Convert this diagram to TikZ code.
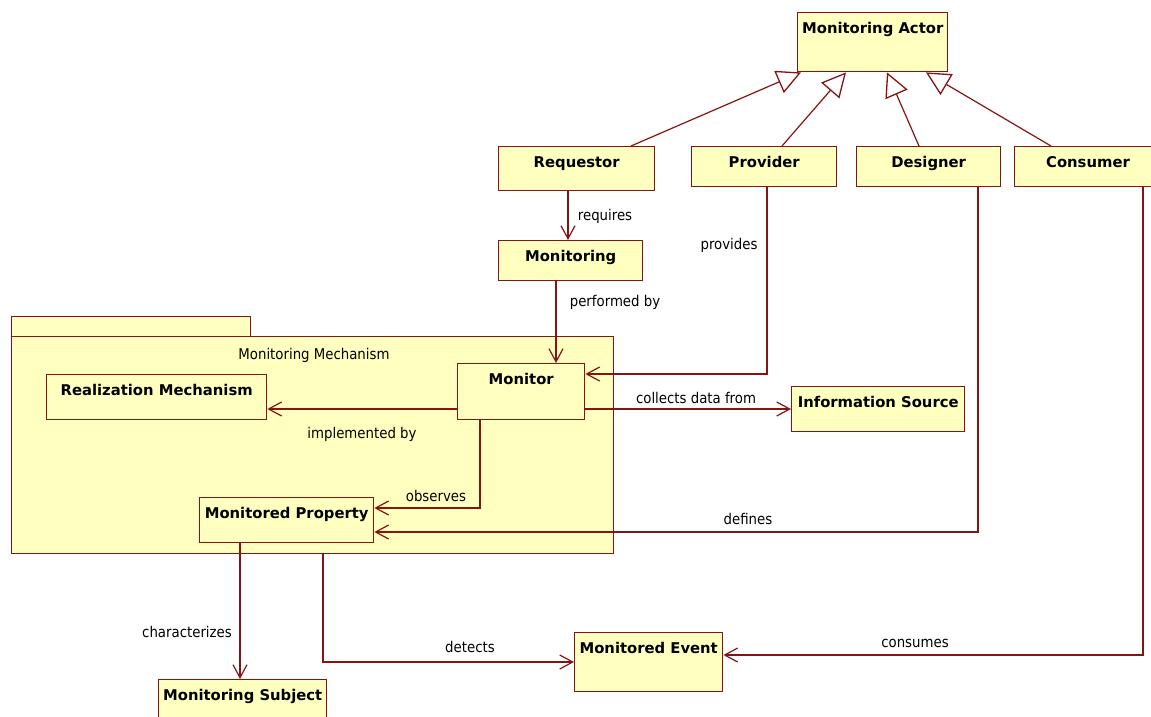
\documentclass[tikz,border=0pt]{standalone}
\usepackage{fontspec}
\setmainfont{DejaVu Sans}
\newfontfamily\condfont{DejaVu Sans Condensed}
\usetikzlibrary{arrows.meta,calc}
\definecolor{dr}{HTML}{861414}
\definecolor{yl}{HTML}{FFFFBF}
\begin{document}
\begin{tikzpicture}[x=1pt,y=-1pt,
  box/.style={draw=dr,fill=yl,line width=1.4pt,inner sep=0pt,anchor=north west},
  btxt/.style={font=\fontsize{14.8}{16}\selectfont\bfseries,inner sep=0pt,anchor=center,text height=10.5pt,text depth=3.5pt},
  lbl/.style={font=\condfont\fontsize{14.8}{16}\selectfont,inner sep=0pt,anchor=center,text height=10.5pt,text depth=3.5pt,yshift=-2pt},
  assoc/.style={draw=dr,line width=1.2pt,-{Straight Barb[length=13pt,width=14pt,line width=1.2pt]}},
  gen/.style={draw=dr,line width=1.2pt,-{Triangle[open,length=24pt,width=24pt,line width=1.3pt,fill=white]}}]
\useasboundingbox (0,0) rectangle (1151,716);
\fill[white] (0,0) rectangle (1151,716);
% package
\node[box,minimum width=239pt,minimum height=20pt] (pkgtab) at (11,316) {};
\node[box,minimum width=602pt,minimum height=217pt] (pkg) at (11,336) {};
\node[lbl] (pkgT) at (314,354) {Monitoring Mechanism};
% boxes
\node[box,minimum width=150pt,minimum height=59pt] (actor) at (797,12) {};
\node[btxt] (actorT) at ([yshift=-18pt]actor.north) {Monitoring Actor};
\node[box,minimum width=156pt,minimum height=44pt] (req) at (498,146) {};
\node[btxt] (reqT) at ([yshift=-18pt]req.north) {Requestor};
\node[box,minimum width=145pt,minimum height=40pt] (prov) at (691,146) {};
\node[btxt] (provT) at ([yshift=-18pt]prov.north) {Provider};
\node[box,minimum width=144pt,minimum height=40pt] (des) at (856,146) {};
\node[btxt] (desT) at ([yshift=-18pt]des.north) {Designer};
\node[box,minimum width=148pt,minimum height=40pt] (cons) at (1014,146) {};
\node[btxt] (consT) at (1088,164) {Consumer};
\node[box,minimum width=144pt,minimum height=40pt] (moni) at (498,240) {};
\node[btxt] (moniT) at ([yshift=-18pt]moni.north) {Monitoring};
\node[box,minimum width=220pt,minimum height=45pt] (real) at (46,374) {};
\node[btxt] (realT) at ([yshift=-18pt]real.north) {Realization Mechanism};
\node[box,minimum width=127pt,minimum height=56pt] (mon) at (457,363) {};
\node[btxt] (monT) at ([yshift=-18pt]mon.north) {Monitor};
\node[box,minimum width=173pt,minimum height=45pt] (info) at (791,386) {};
\node[btxt] (infoT) at ([yshift=-18pt]info.north) {Information Source};
\node[box,minimum width=174pt,minimum height=45pt] (prop) at (199,497) {};
\node[btxt] (propT) at ([yshift=-18pt]prop.north) {Monitored Property};
\node[box,minimum width=168pt,minimum height=50pt] (subj) at (158,679) {};
\node[btxt] (subjT) at ([yshift=-18pt]subj.north) {Monitoring Subject};
\node[box,minimum width=148pt,minimum height=59pt] (event) at (574,632) {};
\node[btxt] (eventT) at ([yshift=-18pt]event.north) {Monitored Event};
% helper coordinates
\coordinate (x568) at (568,0);
\coordinate (x556) at (556,0);
\coordinate (p374) at (767,374);
\coordinate (y409) at (0,409);
\coordinate (p508) at (480,508);
\coordinate (p532) at (978,532);
\coordinate (x240) at (240,0);
\coordinate (p662) at (323,662);
\coordinate (p655) at (1143,655);
\coordinate (g1) at (631,0);
\coordinate (g2) at (782,0);
\coordinate (g3) at (919,0);
\coordinate (g4) at (1051,0);
\coordinate (t1) at (801,0);
\coordinate (t2) at (846,0);
\coordinate (t3) at (887,0);
\coordinate (t4) at (926,0);
% generalizations
\draw[gen] (req.north -| g1) -- (actor.south -| t1);
\draw[gen] (prov.north -| g2) -- (actor.south -| t2);
\draw[gen] (des.north -| g3) -- (actor.south -| t3);
\draw[gen] (cons.north -| g4) -- (actor.south -| t4);
% associations
\draw[assoc] (req.south -| x568) -- (moni.north -| x568);
\node[lbl] (l1) at (605,215) {requires};
\draw[assoc] (moni.south -| x556) -- (mon.north -| x556);
\node[lbl] (l2) at (615,301) {performed by};
\draw[assoc] (prov.south -| p374) |- (mon.east |- p374);
\node[lbl] (l3) at (729,244) {provides};
\draw[assoc] (mon.west |- y409) -- (real.east |- y409);
\node[lbl] (l4) at (362,433) {implemented by};
\draw[assoc] (mon.east |- y409) -- (info.west |- y409);
\node[lbl] (l5) at (696,398) {collects data from};
\draw[assoc] (mon.south -| p508) |- (prop.east |- p508);
\node[lbl] (l6) at (436,496) {observes};
\draw[assoc] (des.south -| p532) |- (prop.east |- p532);
\node[lbl] (l7) at (748,519) {defines};
\draw[assoc] (prop.south -| x240) -- (subj.north -| x240);
\node[lbl] (l8) at (187,632) {characterizes};
\draw[assoc] (pkg.south -| p662) |- (event.west |- p662);
\node[lbl] (l9) at (470,647) {detects};
\draw[assoc] (cons.south -| p655) |- (event.east |- p655);
\node[lbl] (l10) at (915,642) {consumes};
\end{tikzpicture}
\end{document}
